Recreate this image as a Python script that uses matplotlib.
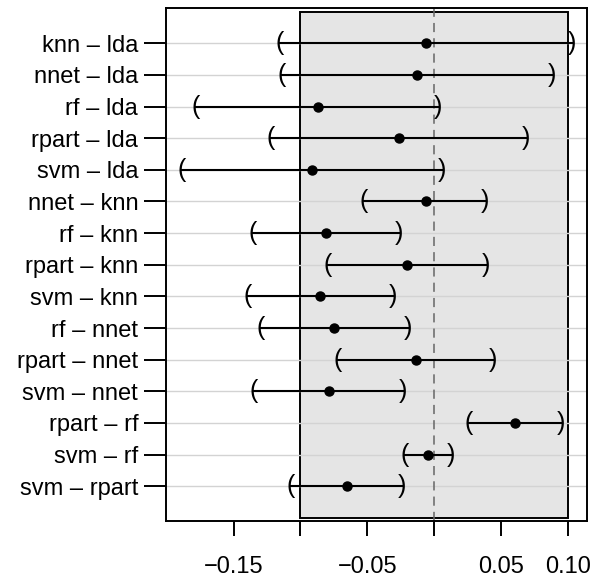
import numpy as np
import matplotlib
matplotlib.use("Agg")
import matplotlib.pyplot as plt
from matplotlib.patches import Rectangle

plt.rcParams["font.family"] = ["Liberation Sans", "DejaVu Sans"]

# model differences (top to bottom)
labels = ["knn \u2013 lda", "nnet \u2013 lda", "rf \u2013 lda", "rpart \u2013 lda", "svm \u2013 lda",
          "nnet \u2013 knn", "rf \u2013 knn", "rpart \u2013 knn", "svm \u2013 knn",
          "rf \u2013 nnet", "rpart \u2013 nnet", "svm \u2013 nnet",
          "rpart \u2013 rf", "svm \u2013 rf", "svm \u2013 rpart"]
estimate = [-0.0062, -0.0127, -0.0868, -0.0262, -0.0913,
            -0.0062, -0.0806, -0.0202, -0.0851,
            -0.0746, -0.0137, -0.0786,
            0.0609, -0.0047, -0.0649]
lower = [-0.1158, -0.1140, -0.1780, -0.1220, -0.1890,
         -0.0524, -0.1360, -0.0796, -0.1397,
         -0.1295, -0.0721, -0.1352,
         0.0257, -0.0217, -0.1070]
upper = [0.1030, 0.0880, 0.0032, 0.0689, 0.0057,
         0.0382, -0.0262, 0.0389, -0.0305,
         -0.0197, 0.0444, -0.0230,
         0.0950, 0.0127, -0.0237]
xticks = [-0.15, -0.10, -0.05, 0.0, 0.05, 0.10]
xticklabels = ["\u22120.15", "", "\u22120.05", "", "0.05", "0.10"]
zone = (-0.10, 0.10)

n = len(labels)
ypos = np.arange(n, 0, -1)

fig = plt.figure(figsize=(5.93, 5.81), dpi=100)
ax = fig.add_axes([0.2799, 0.1030, 0.7100, 0.8827])

# shaded equivalence region
ax.add_patch(Rectangle((zone[0], 0), zone[1] - zone[0], n + 1,
                       facecolor="#E5E5E5", edgecolor="black", lw=1.4, zorder=1))

for y in ypos:
    ax.axhline(y, color="#D3D3D3", lw=1.0, zorder=2)

ax.axvline(0, color="#666666", lw=1.1, dashes=(6, 4), zorder=2)

for y, est, lo, hi in zip(ypos, estimate, lower, upper):
    ax.plot([lo, hi], [y, y], color="black", lw=1.5, zorder=3)
    ax.text(lo, y, "(", ha="center", va="center", fontsize=18, zorder=4)
    ax.text(hi, y, ")", ha="center", va="center", fontsize=18, zorder=4)
ax.plot(estimate, ypos, "o", color="black", ms=6.5, zorder=5)

ax.set_xlim(-0.2006, 0.1145)
ax.set_ylim(-0.105, n + 1.105)
ax.set_yticks(ypos)
ax.set_yticklabels(labels)
ax.set_xticks(xticks)
ax.set_xticklabels(xticklabels)
ax.tick_params(axis="y", length=16, width=1.4, pad=4, labelsize=17)
ax.tick_params(axis="x", length=11, width=1.4, pad=14, labelsize=17)
for s in ax.spines.values():
    s.set_linewidth(1.4)

fig.savefig("out.png", dpi=100)
